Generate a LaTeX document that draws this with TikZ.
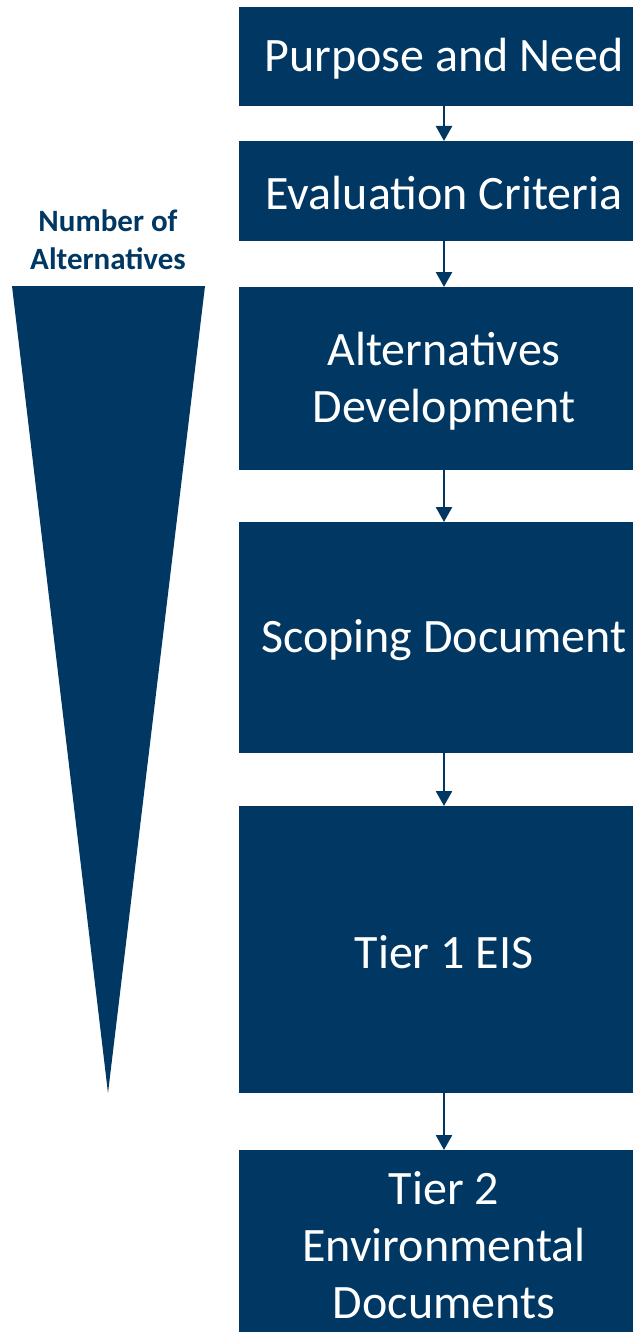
\documentclass[tikz,border=0pt]{standalone}
\usepackage{fontspec}
\setmainfont{Carlito}
\usetikzlibrary{arrows.meta}
\definecolor{navy}{RGB}{0,56,99}
\tikzset{
  stepbox/.style={fill=navy, draw=none, text=white, align=center, font=\fontsize{48}{57}\selectfont},
  flow/.style={draw=navy, line width=2.5pt, -{Triangle[width=16pt,length=15pt]}}
}
\begin{document}
\begin{tikzpicture}[x=1pt,y=-1pt]
\useasboundingbox (0,0) rectangle (633,1332);
% boxes
\fill[navy] (239,7) rectangle (633,106);
\node[stepbox] (b1) at (444,58.5) {Purpose and Need};
\fill[navy] (239,141) rectangle (633,241);
\node[stepbox] (b2) at (444,193) {Evaluation Criteria};
\fill[navy] (239,287) rectangle (633,470);
\node[stepbox] (b3) at (444,381.5) {Alternatives\\Development};
\fill[navy] (239,522) rectangle (633,753);
\node[stepbox] (b4) at (444,640) {Scoping Document};
\fill[navy] (239,806) rectangle (633,1093);
\node[stepbox] (b5) at (444,952) {Tier 1 EIS};
\fill[navy] (239,1150) rectangle (633,1332);
\node[stepbox] (b6) at (444,1245) {Tier 2\\Environmental\\Documents};
% coordinates for connectors
\coordinate (a1s) at (444,106); \coordinate (a1e) at (444,141);
\coordinate (a2s) at (444,241); \coordinate (a2e) at (444,287);
\coordinate (a3s) at (444,470); \coordinate (a3e) at (444,522);
\coordinate (a4s) at (444,753); \coordinate (a4e) at (444,806);
\coordinate (a5s) at (444,1093); \coordinate (a5e) at (444,1150);
\draw[flow] (a1s) -- (a1e);
\draw[flow] (a2s) -- (a2e);
\draw[flow] (a3s) -- (a3e);
\draw[flow] (a4s) -- (a4e);
\draw[flow] (a5s) -- (a5e);
% funnel
\fill[navy] (12,286) -- (205,286) -- (108,1093) -- cycle;
\node[text=navy, align=center, font=\bfseries\fontsize{31}{38}\selectfont] (lbl) at (108,240) {Number of\\Alternatives};
\end{tikzpicture}
\end{document}
